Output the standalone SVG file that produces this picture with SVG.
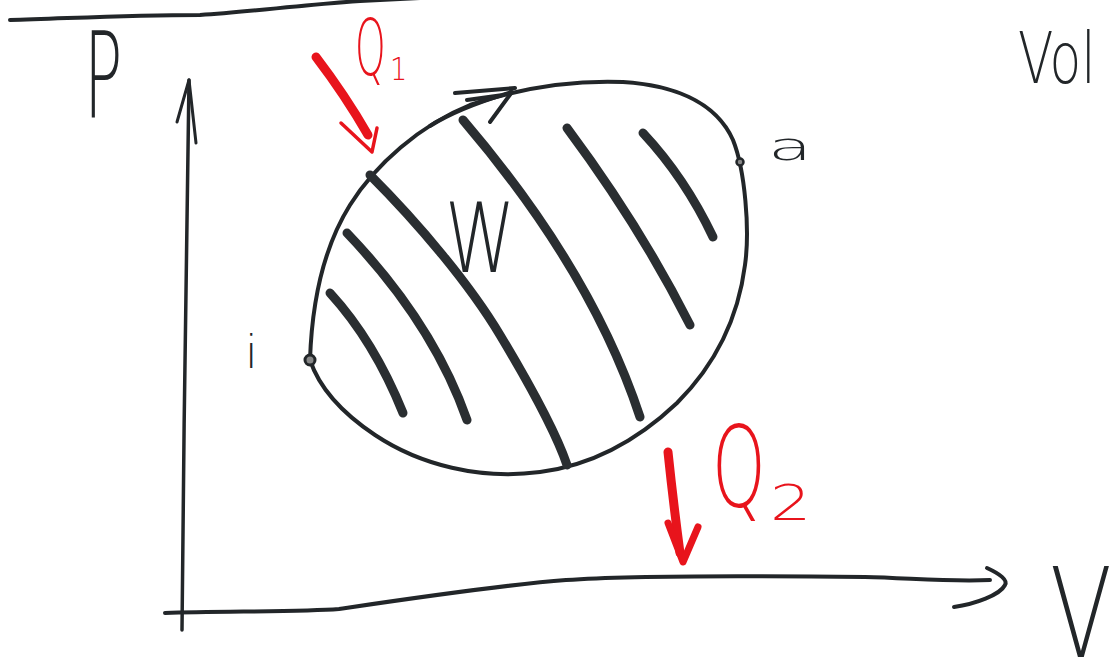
<svg xmlns="http://www.w3.org/2000/svg" width="1113" height="660" viewBox="0 0 1113 660">
<style>
.ink{fill:none;stroke:#222629;stroke-linecap:round;stroke-linejoin:round}
.hatch{fill:none;stroke:#2a2e31;stroke-width:9;stroke-linecap:round}
.red{fill:none;stroke:#e8141c;stroke-linecap:round;stroke-linejoin:round}
.lbl{font-family:"DejaVu Sans","Liberation Sans",sans-serif;font-weight:200;fill:#222629}
.rlbl{font-family:"DejaVu Sans","Liberation Sans",sans-serif;font-weight:200;fill:#e8141c}
</style>
<rect width="1113" height="660" fill="#ffffff"/>
<g id="top-rule">
<path class="ink" stroke-width="4" d="M10,20 C60,19 120,15 200,15 C250,12 300,5 360,1 L420,-2"/>
</g>
<g id="axes">
<path class="ink" stroke-width="3.5" d="M189,80 C186,200 184,450 182,630"/>
<path class="ink" stroke-width="3" d="M177,122 L189,80 L196,143"/>
<path class="ink" stroke-width="4" d="M165,613 C220,611 300,612 339,609 C400,600 500,585 566,580 C620,576 700,575 865,577 C910,578 950,582 990,580"/>
<path class="ink" stroke-width="4" d="M987,568 C1000,574 1008,580 1005,585 C1000,595 975,604 954,607"/>
</g>
<g id="cycle">
<path class="ink" stroke-width="4" d="M310,360 C312,300 325,245 350,205 C375,165 420,125 470,105 C520,88 570,80 623,82 C670,85 715,100 733,140 C745,170 750,230 745,265 C738,320 715,365 677,403 C640,438 595,465 540,472 C480,480 420,465 375,435 C345,415 320,390 310,360 Z"/>
<path class="ink" stroke-width="4" d="M430,126 C455,110 485,100 512,92 M455,93 L515,88 M490,122 L512,92 M467,100 L503,95"/>
</g>
<g id="hatching">
<path class="hatch" d="M370,175 C420,225 470,285 500,335 C530,385 555,430 567,465"/>
<path class="hatch" d="M463,120 Q592,271 640,417"/>
<path class="hatch" d="M567,128 Q640,226 690,325"/>
<path class="hatch" d="M643,133 Q685,178 713,237"/>
<path class="hatch" d="M347,233 Q433,323 467,420"/>
<path class="hatch" d="M330,293 Q374,341 403,413"/>
</g>
<g id="state-i">
<circle cx="310" cy="360" r="5" fill="#888" stroke="#222629" stroke-width="3"/>
<text class="lbl" x="245" y="368" font-size="46">i</text>
</g>
<g id="state-a">
<circle cx="740" cy="162" r="3.5" fill="#888" stroke="#222629" stroke-width="2.5"/>
<text class="lbl" transform="translate(768,160) scale(1.9,1)" font-size="38">a</text>
</g>
<g id="heat-in">
<path class="red" stroke-width="9" d="M316,57 Q345,95 368,135"/>
<path class="red" stroke-width="3.5" d="M341,123 L372,152 L377,128"/>
<text class="rlbl" transform="translate(355,75) scale(0.5,1)" font-size="78">Q</text>
<text class="rlbl" transform="translate(390,80) scale(0.85,1)" font-size="32">1</text>
</g>
<g id="heat-out">
<path class="red" stroke-width="9" d="M668,452 Q673,500 680,553"/>
<path class="red" stroke-width="7" d="M668,523 L683,562 L698,527"/>
<text class="rlbl" transform="translate(712,506) scale(0.61,1)" font-size="112">Q</text>
<text class="rlbl" transform="translate(770,520) scale(1.3,1)" font-size="50">2</text>
</g>
<g id="labels">
<text class="lbl" transform="translate(445,272) scale(0.74,1)" font-size="96">W</text>
<text class="lbl" transform="translate(84,118) scale(0.53,1)" font-size="120">P</text>
<text class="lbl" transform="translate(1018,83) scale(0.72,1)" font-size="72">Vol</text>
<text class="lbl" transform="translate(1050,657) scale(0.73,1)" font-size="124">V</text>
</g>
</svg>
